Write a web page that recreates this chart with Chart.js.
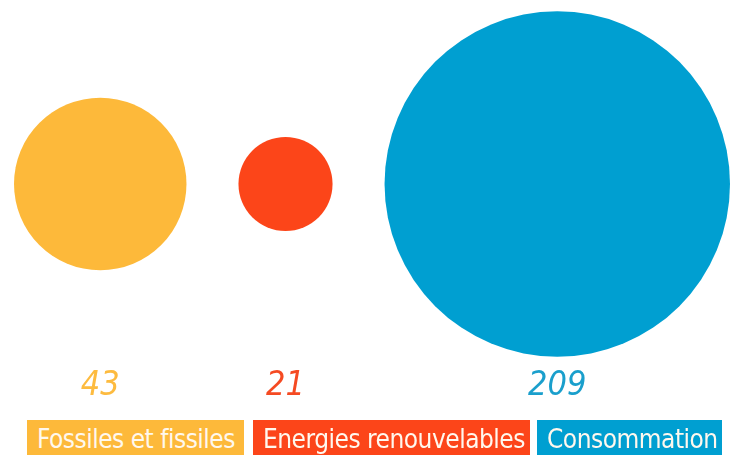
<!DOCTYPE html>
<html>
<head>
<meta charset="utf-8">
<script src="https://cdn.jsdelivr.net/npm/chart.js@4"></script>
<style>
  body { margin: 0; background: #fff; }
  #wrap { position: relative; width: 731px; height: 455px; overflow: hidden; }
  .etiquette {
    position: absolute; top: 420px; height: 40px; box-sizing: border-box;
    padding-left: 10px; color: #fff8ee; white-space: nowrap;
    font: 26px "DejaVu Sans Condensed", sans-serif; letter-spacing: -0.5px; line-height: 38px;
  }
</style>
</head>
<body>
<div id="wrap">
  <canvas id="graficaBulles" width="731" height="455"></canvas>
  <div class="etiquette" id="etq-0" style="left:27px;width:217px;"></div>
  <div class="etiquette" id="etq-1" style="left:253px;width:277px;"></div>
  <div class="etiquette" id="etq-2" style="left:537px;width:185px;"></div>
</div>
<script>
const categories = ['Fossiles et fissiles', 'Energies renouvelables', 'Consommation'];
const values = [43, 21, 209];

const couleurs = ['#fdb93a', '#fc4519', '#009fd1'];
const couleursTexte = ['#fdbb3f', '#f54a22', '#1a9fcc'];

// rayon en pixels d'apres la valeur (echelle)
function rayon(v) { return 54.7 * Math.log(v) - 119.5; }

// bulles posees l'une a cote de l'autre avec un ecart constant
const MARGE = 14, ECART = 52, CENTRE_Y = 184;
let curseur = MARGE;
const points = values.map(v => {
    const r = rayon(v);
    const p = { x: curseur + r, y: CENTRE_Y, r: r };
    curseur += 2 * r + ECART;
    return p;
});

categories.forEach((c, i) => {
    const el = document.getElementById('etq-' + i);
    el.innerText = c;
    el.style.background = couleurs[i];
});

const valeursPlugin = {
    id: 'valeurs',
    afterDatasetsDraw(chart) {
        const ctx = chart.ctx;
        const meta = chart.getDatasetMeta(0);
        ctx.save();
        ctx.font = 'italic 34px "DejaVu Sans Condensed", sans-serif';
        ctx.textAlign = 'center';
        ctx.textBaseline = 'alphabetic';
        meta.data.forEach((el, i) => {
            ctx.fillStyle = couleursTexte[i];
            ctx.fillText(String(values[i]), el.x, 395);
        });
        ctx.restore();
    }
};

new Chart(document.getElementById('graficaBulles'), {
    type: 'bubble',
    data: {
        labels: categories,
        datasets: [{
            data: points,
            backgroundColor: couleurs,
            borderWidth: 0,
            hoverRadius: 0,
            clip: false
        }]
    },
    options: {
        responsive: false,
        animation: false,
        events: [],
        layout: { padding: 0, autoPadding: false },
        plugins: { legend: { display: false }, tooltip: { enabled: false } },
        scales: {
            x: { type: 'linear', min: 0, max: 731, display: false },
            y: { type: 'linear', min: 0, max: 455, reverse: true, display: false }
        }
    },
    plugins: [valeursPlugin]
});
</script>
</body>
</html>
